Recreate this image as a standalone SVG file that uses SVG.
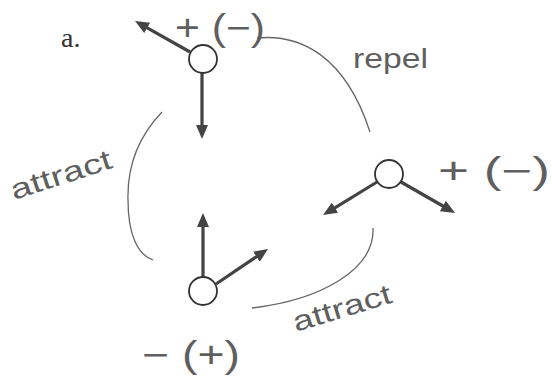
<svg xmlns="http://www.w3.org/2000/svg" width="552" height="379" viewBox="0 0 552 379">
<style>
.bg{fill:#ffffff}
.node circle{fill:#ffffff;stroke:#333333;stroke-width:1.8}
.arrow{stroke:#444444;stroke-width:3.2;fill:none}
.curve{stroke:#666666;stroke-width:1.3;fill:none}
.hand{font-family:"Liberation Sans","DejaVu Sans",sans-serif;fill:#5f5f5f}
.label{font-family:"Liberation Serif",serif;fill:#333333;font-size:28px}
</style>
<defs>
<marker id="ah" viewBox="0 0 14 12" refX="3" refY="6" markerWidth="14" markerHeight="12" markerUnits="userSpaceOnUse" orient="auto">
<path d="M0,0 L14,6 L0,12 z" fill="#444444"/>
</marker>
</defs>
<rect class="bg" x="0" y="0" width="552" height="379"/>
<text class="label" x="61" y="47">a.</text>
<g id="connectors">
<path class="curve" d="M257,38 C300,34 345,55 370,132"/>
<path class="curve" d="M162,112 C140,135 127,165 128,200 C128,235 138,255 153,260"/>
<path class="curve" d="M373,228 C375,270 320,300 252,308"/>
<text class="hand" x="353" y="68" font-size="28" textLength="75" lengthAdjust="spacingAndGlyphs">repel</text>
<text class="hand" x="14" y="200" font-size="28" textLength="105" lengthAdjust="spacingAndGlyphs" transform="rotate(-18 14 200)">attract</text>
<text class="hand" x="296" y="332" font-size="28" textLength="102" lengthAdjust="spacingAndGlyphs" transform="rotate(-17 296 332)">attract</text>
</g>
<g id="node-top" class="node">
<line class="arrow" x1="190" y1="52" x2="144.6" y2="26.4" marker-end="url(#ah)"/>
<line class="arrow" x1="202" y1="73" x2="202" y2="128" marker-end="url(#ah)"/>
<circle cx="203" cy="59" r="14"/>
<text class="hand" x="175" y="40" font-size="36" textLength="90" lengthAdjust="spacingAndGlyphs">+ (−)</text>
</g>
<g id="node-right" class="node">
<line class="arrow" x1="377" y1="182" x2="332.4" y2="209.3" marker-end="url(#ah)"/>
<line class="arrow" x1="401" y1="182" x2="445.5" y2="207.5" marker-end="url(#ah)"/>
<circle cx="389" cy="174" r="14"/>
<text class="hand" x="438" y="183" font-size="36" textLength="112" lengthAdjust="spacingAndGlyphs">+ (−)</text>
</g>
<g id="node-bottom" class="node">
<line class="arrow" x1="203" y1="277" x2="203" y2="224" marker-end="url(#ah)"/>
<line class="arrow" x1="216" y1="284" x2="258.9" y2="255.1" marker-end="url(#ah)"/>
<circle cx="203" cy="291" r="14"/>
<text class="hand" x="142" y="367" font-size="36" textLength="98" lengthAdjust="spacingAndGlyphs">− (+)</text>
</g>
</svg>
